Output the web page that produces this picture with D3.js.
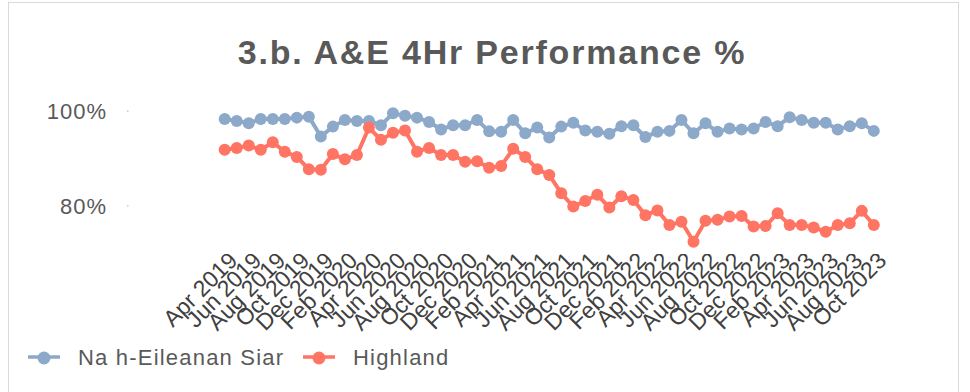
<!doctype html>
<html>
<head>
<meta charset="utf-8">
<script src="https://d3js.org/d3.v7.min.js"></script>
<style>
body {margin: 0; background: #fff;}
text {font-family: "Liberation Sans", Arial, sans-serif; fill: #595959;}
</style>
</head>
<body>
<svg width="970" height="392" class="chart"></svg>
<script>

var months = ["Apr 2019","May 2019","Jun 2019","Jul 2019","Aug 2019","Sep 2019","Oct 2019","Nov 2019","Dec 2019",
  "Jan 2020","Feb 2020","Mar 2020","Apr 2020","May 2020","Jun 2020","Jul 2020","Aug 2020","Sep 2020","Oct 2020","Nov 2020","Dec 2020",
  "Jan 2021","Feb 2021","Mar 2021","Apr 2021","May 2021","Jun 2021","Jul 2021","Aug 2021","Sep 2021","Oct 2021","Nov 2021","Dec 2021",
  "Jan 2022","Feb 2022","Mar 2022","Apr 2022","May 2022","Jun 2022","Jul 2022","Aug 2022","Sep 2022","Oct 2022","Nov 2022","Dec 2022",
  "Jan 2023","Feb 2023","Mar 2023","Apr 2023","May 2023","Jun 2023","Jul 2023","Aug 2023","Sep 2023","Oct 2023"];

var siar = [98.3,97.9,97.4,98.3,98.3,98.3,98.6,98.8,94.6,96.7,
  98.1,97.9,97.9,97.0,99.5,99.0,98.6,97.7,96.1,97.0,
  97.0,98.1,95.7,95.6,98.1,95.3,96.5,94.4,96.7,97.5,
  95.9,95.6,95.2,96.8,97.0,94.5,95.6,95.8,98.1,95.3,
  97.4,95.6,96.3,96.1,96.3,97.7,96.8,98.7,98.1,97.5,
  97.5,96.1,96.8,97.4,95.8];

var highland = [91.8,92.2,92.7,91.8,93.4,91.4,90.3,87.7,87.6,90.9,
  89.8,90.7,96.5,93.9,95.4,95.9,91.4,92.2,90.7,90.7,
  89.3,89.4,88.0,88.4,92.0,90.3,87.7,86.5,82.6,79.8,
  81.0,82.3,79.6,82.0,81.2,78.0,79.0,75.9,76.6,72.4,
  76.8,77.0,77.7,77.8,75.6,75.7,78.4,75.9,75.9,75.4,
  74.5,75.9,76.3,78.9,75.9];

var yTicks = [80, 100];
var seriesNames = ["Na h-Eileanan Siar", "Highland"];
var colors = ["#8DA9CA", "#FF7462"];

var svg = d3.select(".chart");

// outer frame
svg.append("rect")
  .attr("x", 8.5).attr("y", 2.5)
  .attr("width", 950).attr("height", 400)
  .style("fill", "none")
  .style("stroke", "#d9d9d9");

// title
svg.append("text")
  .attr("x", 492)
  .attr("y", 64)
  .attr("text-anchor", "middle")
  .style("font-size", "34px")
  .style("font-weight", "bold")
  .style("letter-spacing", "1.8px")
  .text("3.b. A&E 4Hr Performance %");

var xScale = d3.scalePoint().domain(d3.range(months.length)).range([224.7, 873.8]),
    yScale = d3.scaleLinear().domain([70, 100]).range([253, 111]);

// y axis: labels and dot ticks only
var yAxis = svg.append("g");
yAxis.selectAll("text")
  .data(yTicks).enter().append("text")
  .attr("x", 107)
  .attr("y", function(d) { return yScale(d); })
  .attr("dy", "0.36em")
  .attr("text-anchor", "end")
  .style("font-size", "22px")
  .style("letter-spacing", "1px")
  .text(function(d) { return d + "%"; });
yAxis.selectAll("rect")
  .data(yTicks).enter().append("rect")
  .attr("x", 127).attr("y", function(d) { return yScale(d) - 0.5; })
  .attr("width", 1.5).attr("height", 1.5)
  .style("fill", "#cccccc");

// x labels, every other month, rotated (clipped at the top like the original)
svg.append("clipPath").attr("id", "xclip")
  .append("rect").attr("x", 0).attr("y", 254).attr("width", 970).attr("height", 100);
var xAxis = svg.append("g").attr("clip-path", "url(#xclip)");
xAxis.selectAll("text")
  .data(d3.range(0, months.length, 2)).enter().append("text")
  .attr("transform", function(i) { return "translate(" + (xScale(i) + 14) + ",262)rotate(-45)"; })
  .attr("text-anchor", "end")
  .style("font-size", "23px")
  .style("fill", "#404040")
  .text(function(i) { return months[i]; });

var line = d3.line()
  .x(function(d, i) { return xScale(i); })
  .y(function(d) { return yScale(d); });

[siar, highland].forEach(function(s, k) {
  svg.append("path")
    .datum(s)
    .attr("d", line)
    .style("fill", "none")
    .style("stroke", colors[k])
    .style("stroke-width", 4);
  svg.append("g").selectAll("circle")
    .data(s).enter().append("circle")
    .attr("cx", function(d, i) { return xScale(i); })
    .attr("cy", function(d) { return yScale(d); })
    .attr("r", 6)
    .style("fill", colors[k]);
});

// legend
var legendX = [28, 303];
seriesNames.forEach(function(name, k) {
  var g = svg.append("g").attr("transform", "translate(" + legendX[k] + ",357)");
  g.append("line").attr("x1", 0).attr("x2", 32).attr("y1", 0).attr("y2", 0)
    .style("stroke", colors[k]).style("stroke-width", 3.5);
  g.append("circle").attr("cx", 16).attr("cy", 1).attr("r", 6.5).style("fill", colors[k]);
  g.append("text").attr("x", 50).attr("y", 0).attr("dy", "0.36em")
    .style("font-size", "22px")
    .style("letter-spacing", "1.2px")
    .text(name);
});

</script>
</body>
</html>
